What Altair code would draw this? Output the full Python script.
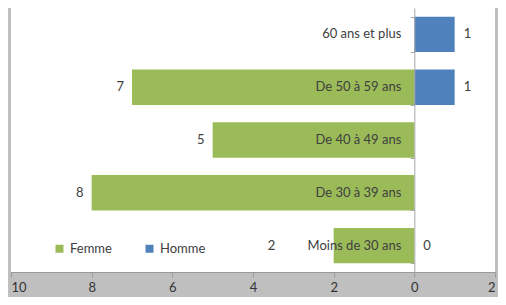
import altair as alt
import pandas as pd

categories = ["60 ans et plus", "De 50 à 59 ans", "De 40 à 49 ans", "De 30 à 39 ans", "Moins de 30 ans"]
femme = [None, 7, 5, 8, 2]
homme = [1, 1, None, None, 0]
x_ticks = [-10, -8, -6, -4, -2, 0, 2]
series = ["Femme", "Homme"]
colors = ["#9BBB59", "#4F81BD"]

rows = []
for c, f, h in zip(categories, femme, homme):
    if f is not None:
        # femme label pushed left of the category text when the bar is short
        rows.append({"cat": c, "sexe": "Femme", "val": f, "x": -f, "lab_x": -max(f, 3.25)})
    if h is not None:
        rows.append({"cat": c, "sexe": "Homme", "val": h, "x": h, "lab_x": h})
df = pd.DataFrame(rows)
cats_df = pd.DataFrame({"cat": categories, "zero": [0] * len(categories)})

FONT = "Lato"
TXT = "#404040"
W = 484
H = 264

y_enc = alt.Y(
    "cat:N",
    sort=categories,
    title=None,
    scale=alt.Scale(domain=categories, paddingInner=0.33, paddingOuter=0.165),
    axis=alt.Axis(
        orient="left", offset=-W * 10 / 12, labels=False, ticks=True, tickBand="extent",
        tickSize=4, tickColor="#A6A6A6", domainColor="#A6A6A6", grid=False, zindex=1,
    ),
)

x_scale = alt.Scale(domain=[-10, 2], nice=False, zero=True)
x_axis = alt.Axis(
    values=x_ticks, labelExpr="'' + abs(datum.value)", grid=False,
    domainColor="#9A9A9A", tickColor="#9A9A9A", tickSize=5,
    labelFont=FONT, labelFontSize=13, labelColor="#333333", labelPadding=4,
    labelFlush=True, labelOverlap=False,
)

def xenc(field):
    return alt.X(field, scale=x_scale, axis=x_axis, title=None)

base = alt.Chart(df)

bars = base.mark_bar().encode(
    x=xenc("x:Q"),
    y=y_enc,
    color=alt.Color(
        "sexe:N",
        scale=alt.Scale(domain=series, range=colors),
        legend=alt.Legend(
            orient="none", legendX=42, legendY=234, direction="horizontal",
            title=None, symbolType="square", symbolSize=64, symbolStrokeWidth=0,
            labelFont=FONT, labelFontSize=13, labelColor=TXT, columnPadding=31,
        ),
    ),
)

femme_lbl = base.transform_filter(alt.datum.sexe == "Femme").mark_text(
    align="right", dx=-8, font=FONT, fontSize=13, color=TXT
).encode(x=xenc("lab_x:Q"), y=y_enc, text="val:Q")

homme_lbl = base.transform_filter(alt.datum.sexe == "Homme").mark_text(
    align="left", dx=9, font=FONT, fontSize=13, color=TXT
).encode(x=xenc("lab_x:Q"), y=y_enc, text="val:Q")

cat_lbl = alt.Chart(cats_df).mark_text(
    align="right", dx=-13, font=FONT, fontSize=13, color=TXT
).encode(x=xenc("zero:Q"), y=y_enc, text="cat:N")

chart = alt.layer(bars, femme_lbl, homme_lbl, cat_lbl).properties(
    width=W,
    height=H,
    autosize=alt.AutoSizeParams(type="none"),
    padding={"left": 3, "top": 0, "right": 3, "bottom": 25},
    background="#BFBFBF",
).configure_view(fill="white", strokeWidth=0)

chart.save("out.html", embed_options={"renderer": "svg", "actions": False})
